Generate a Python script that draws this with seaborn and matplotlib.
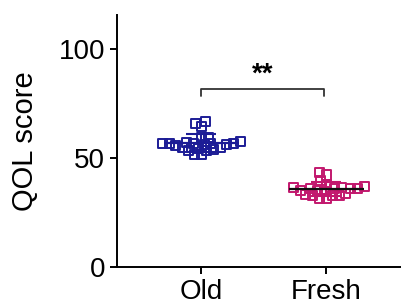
import matplotlib
matplotlib.use('Agg')
import matplotlib.pyplot as plt
import numpy as np
import pandas as pd
import seaborn as sns

# values
groups = ['Old', 'Fresh']
old_scores = [66.0, 64.2, 66.5, 59.2, 59.6, 56.0, 57.3, 56.6, 56.6, 56.6, 56.6,
              56.6, 57.6, 55.8, 56.0, 55.0, 54.3, 53.2, 51.5, 51.5, 53.7, 53.5, 54.6]
fresh_scores = [42.2, 43.4, 39.9, 35.3, 36.4, 35.8, 33.8, 36.8, 36.1, 33.4, 31.5,
                31.5, 33.0, 35.8, 36.4, 37.9, 35.3, 33.0, 33.0, 36.1, 34.5]
colors = ['#1c1c96', '#c2186e']
mean_colors = ['#1c1c96', '#111111']
y_ticks = [0, 50, 100]

df = pd.DataFrame({
    'group': ['Old'] * len(old_scores) + ['Fresh'] * len(fresh_scores),
    'score': old_scores + fresh_scores,
})

sns.set_style('ticks')
plt.rcParams['font.family'] = ['Liberation Sans', 'DejaVu Sans']

fig = plt.figure(figsize=(4.01, 3.07), dpi=100)
ax = fig.add_axes([0.292, 0.130, 0.708, 0.821])

ax.set_ylim(0, 115.5)
ax.set_xlim(-0.672, 1.6)

# swarm laid out with small markers, then drawn bigger so they overlap like the original
sns.swarmplot(data=df, x='group', y='score', hue='group', order=groups,
              palette=colors, marker='s', size=3.4, linewidth=1.4, legend=False, ax=ax)
ax.set_xlim(-0.672, 1.6)
fig.canvas.draw()
for coll, c in zip(ax.collections, colors):
    if 'draw' in coll.__dict__:
        del coll.draw  # keep the swarm positions from the first layout
    coll.set_facecolor('none')
    coll.set_edgecolor(c)
    coll.set_sizes([42])

# mean and SD
for i, vals in enumerate([old_scores, fresh_scores]):
    m = np.mean(vals)
    sd = np.std(vals, ddof=1)
    ax.hlines(m, i - 0.3, i + 0.3, color=mean_colors[i], lw=1.6, zorder=5)
    ax.errorbar(i, m, yerr=sd, color=colors[i], capsize=11, capthick=1.5, lw=1.5, zorder=4)

# significance bracket
top = 81.7
ax.plot([0, 0, 0.98, 0.98], [top - 3.3, top, top, top - 3.3], color='#333333', lw=1.3)
ax.text(0.49, top + 0.6, '**', ha='center', va='bottom', fontsize=20,
        fontweight='bold', color='black')

ax.set_yticks(y_ticks)
ax.set_xlabel('')
ax.set_ylabel('QOL score', fontsize=21, labelpad=14, color='black')
ax.tick_params(labelsize=20, width=1.4, length=5, color='black', labelcolor='black')
sns.despine(ax=ax)
for s in ['left', 'bottom']:
    ax.spines[s].set_linewidth(1.4)
    ax.spines[s].set_color('black')

fig.savefig('out.png', dpi=100)
